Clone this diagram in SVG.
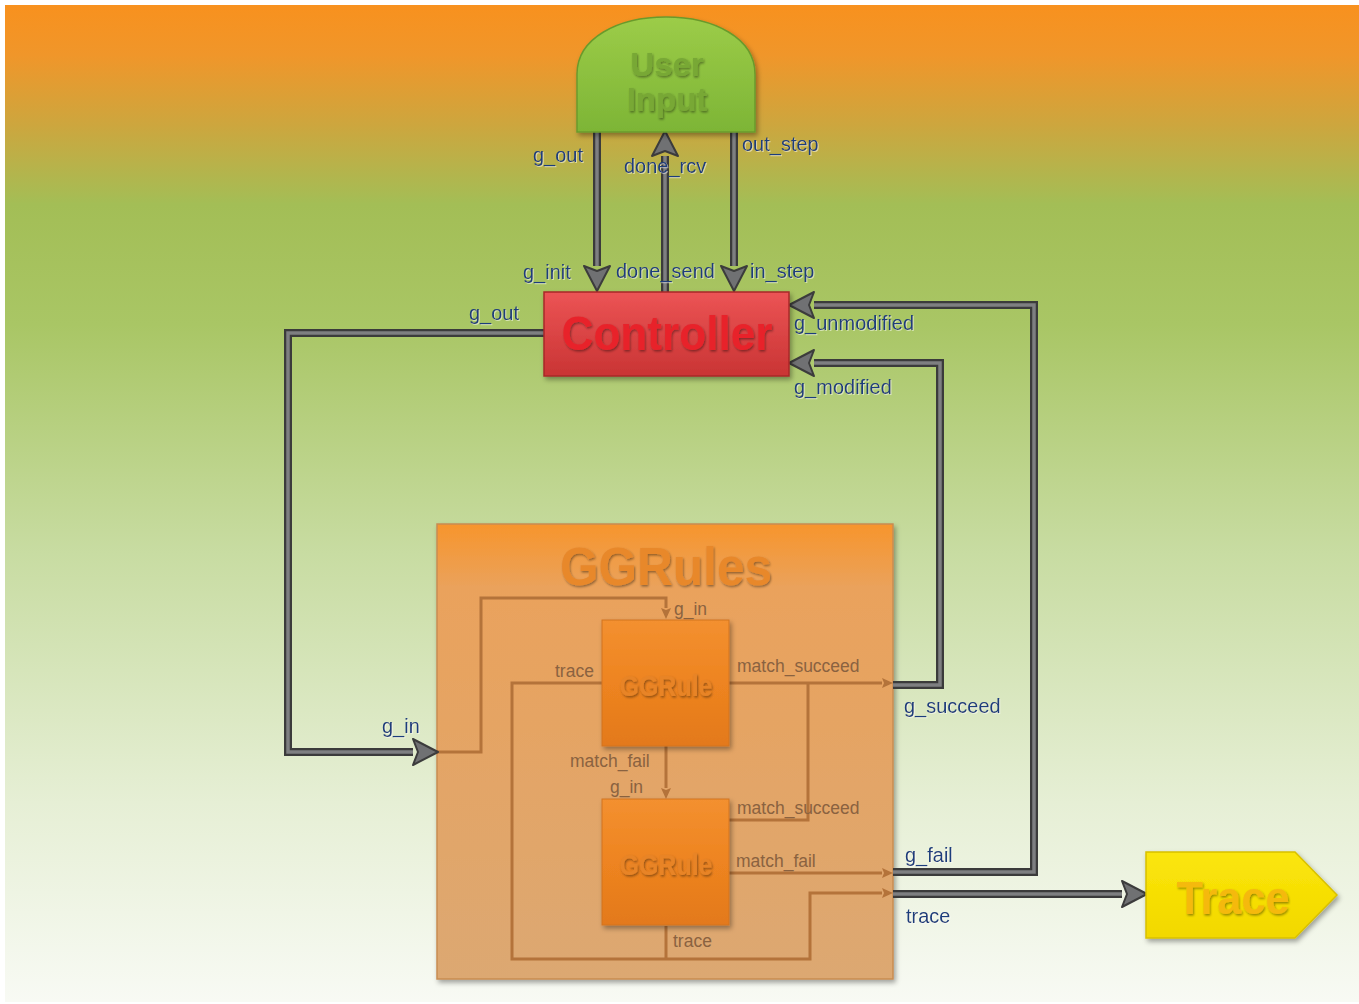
<svg xmlns="http://www.w3.org/2000/svg" width="1359" height="1004" viewBox="0 0 1359 1004">
<defs>
  <linearGradient id="bg" x1="0" y1="0" x2="0" y2="1">
    <stop offset="0" stop-color="#F8911E"/>
    <stop offset="0.05" stop-color="#F0962A"/>
    <stop offset="0.12" stop-color="#CDA63E"/>
    <stop offset="0.2" stop-color="#A3BE56"/>
    <stop offset="0.32" stop-color="#A9C665"/>
    <stop offset="0.55" stop-color="#C8DCA2"/>
    <stop offset="0.8" stop-color="#E6EFD5"/>
    <stop offset="1" stop-color="#F8FAF4"/>
  </linearGradient>
  <linearGradient id="gUser" x1="0" y1="0" x2="0" y2="1">
    <stop offset="0" stop-color="#9CCC48"/>
    <stop offset="1" stop-color="#7DB536"/>
  </linearGradient>
  <linearGradient id="gCtrl" x1="0" y1="0" x2="0" y2="1">
    <stop offset="0" stop-color="#EC5455"/>
    <stop offset="1" stop-color="#C93434"/>
  </linearGradient>
  <linearGradient id="gRules" x1="0" y1="0" x2="0" y2="1">
    <stop offset="0" stop-color="#F7952C"/>
    <stop offset="0.14" stop-color="#EAA25C"/>
    <stop offset="1" stop-color="#DCA872"/>
  </linearGradient>
  <linearGradient id="gRule" x1="0" y1="0" x2="0" y2="1">
    <stop offset="0" stop-color="#F39030"/>
    <stop offset="0.5" stop-color="#EE8420"/>
    <stop offset="1" stop-color="#E3791C"/>
  </linearGradient>
  <linearGradient id="gTrace" x1="0" y1="0" x2="0" y2="1">
    <stop offset="0" stop-color="#FBE60A"/>
    <stop offset="1" stop-color="#F2D800"/>
  </linearGradient>
  <filter id="shadow" x="-10%" y="-10%" width="125%" height="130%">
    <feDropShadow dx="2" dy="3" stdDeviation="2.5" flood-color="#000" flood-opacity="0.35"/>
  </filter>
  <filter id="tshadow" x="-10%" y="-20%" width="120%" height="150%">
    <feDropShadow dx="1" dy="1.5" stdDeviation="1" flood-color="#000" flood-opacity="0.4"/>
  </filter>
  <filter id="lshadow" x="-10%" y="-30%" width="120%" height="160%">
    <feDropShadow dx="1" dy="1" stdDeviation="0.6" flood-color="#fff" flood-opacity="0.5"/>
  </filter>
  <marker id="ah" markerUnits="userSpaceOnUse" markerWidth="28" markerHeight="30" refX="0" refY="15" orient="auto" overflow="visible">
    <path d="M0,2 L25,15 L0,28 L5,15 Z" fill="#707173" stroke="#3C3C3C" stroke-width="2" stroke-linejoin="round"/>
  </marker>
  <marker id="ahs" markerUnits="userSpaceOnUse" markerWidth="12" markerHeight="12" refX="0" refY="6" orient="auto" overflow="visible">
    <path d="M0,1 L11,6 L0,11 L2,6 Z" fill="#B4733A"/>
  </marker>
  <style>
    .outer { fill: none; stroke: #3B3B3B; stroke-width: 8; stroke-linejoin: miter; }
    .inner { fill: none; stroke: #7E7F81; stroke-width: 3.5; stroke-linejoin: miter; }
    .thin { fill: none; stroke: #B4733A; stroke-width: 3; stroke-linejoin: miter; }
    .lbl { font-family: "Liberation Sans", Arial, sans-serif; font-size: 20px; fill: #1F3E7C; }
    .ilbl { font-family: "Liberation Sans", Arial, sans-serif; font-size: 17.5px; fill: #8A6240; }
    .title { font-family: "Liberation Sans", Arial, sans-serif; font-weight: bold; text-anchor: middle; }
  </style>
</defs>

<rect x="0" y="0" width="1359" height="1004" fill="#FFFFFF"/>
<rect x="5" y="5" width="1354" height="997" fill="url(#bg)"/>

<g id="ggrules">
  <rect x="437" y="524" width="456" height="455" fill="url(#gRules)" stroke="#C88C52" stroke-width="1.5" filter="url(#shadow)"/>
  <text class="title" x="666" y="585" font-size="54" textLength="212" lengthAdjust="spacingAndGlyphs" fill="#E8882C" filter="url(#tshadow)">GGRules</text>
</g>

<g id="inner-connectors">
  <path class="thin" d="M437,752 L481,752 L481,598 L666,598 L666,608" marker-end="url(#ahs)"/>
  <path class="thin" d="M602,683 L512,683 L512,959 L810,959 L810,893 L882,893" marker-end="url(#ahs)"/>
  <path class="thin" d="M729,683 L882,683" marker-end="url(#ahs)"/>
  <path class="thin" d="M729,820 L808,820 L808,683"/>
  <path class="thin" d="M666,746 L666,788" marker-end="url(#ahs)"/>
  <path class="thin" d="M729,873 L882,873" marker-end="url(#ahs)"/>
  <path class="thin" d="M666,926 L666,959"/>
  <text class="ilbl" x="674" y="615">g_in</text>
  <text class="ilbl" x="555" y="677">trace</text>
  <text class="ilbl" x="737" y="672">match_succeed</text>
  <text class="ilbl" x="570" y="767">match_fail</text>
  <text class="ilbl" x="610" y="793">g_in</text>
  <text class="ilbl" x="737" y="814">match_succeed</text>
  <text class="ilbl" x="736" y="867">match_fail</text>
  <text class="ilbl" x="673" y="947">trace</text>
</g>

<g id="ggrule1">
  <rect x="602" y="620" width="127" height="126" fill="url(#gRule)" stroke="#D27420" stroke-width="1" filter="url(#shadow)"/>
  <text class="title" x="666" y="696" font-size="29" textLength="93" lengthAdjust="spacingAndGlyphs" fill="#E88426" filter="url(#tshadow)">GGRule</text>
</g>
<g id="ggrule2">
  <rect x="602" y="799" width="127" height="126" fill="url(#gRule)" stroke="#D27420" stroke-width="1" filter="url(#shadow)"/>
  <text class="title" x="666" y="875" font-size="29" textLength="93" lengthAdjust="spacingAndGlyphs" fill="#E88426" filter="url(#tshadow)">GGRule</text>
</g>

<g id="connectors">
  <path class="outer" d="M597,132 L597,266"/>
  <path class="inner" d="M597,132 L597,266" marker-end="url(#ah)"/>
  <path class="outer" d="M665,292 L665,156"/>
  <path class="inner" d="M665,292 L665,156" marker-end="url(#ah)"/>
  <path class="outer" d="M734,132 L734,266"/>
  <path class="inner" d="M734,132 L734,266" marker-end="url(#ah)"/>
  <path class="outer" d="M544,333 L288,333 L288,752 L413,752"/>
  <path class="inner" d="M544,333 L288,333 L288,752 L413,752" marker-end="url(#ah)"/>
  <path class="outer" d="M893,872 L1034,872 L1034,305 L814,305"/>
  <path class="inner" d="M893,872 L1034,872 L1034,305 L814,305" marker-end="url(#ah)"/>
  <path class="outer" d="M893,685 L940,685 L940,363 L814,363"/>
  <path class="inner" d="M893,685 L940,685 L940,363 L814,363" marker-end="url(#ah)"/>
  <path class="outer" d="M893,894 L1122,894"/>
  <path class="inner" d="M893,894 L1122,894" marker-end="url(#ah)"/>
  <g filter="url(#lshadow)">
    <text class="lbl" x="533" y="162">g_out</text>
    <text class="lbl" x="624" y="173">done_rcv</text>
    <text class="lbl" x="742" y="151">out_step</text>
    <text class="lbl" x="523" y="279">g_init</text>
    <text class="lbl" x="616" y="278">done_send</text>
    <text class="lbl" x="750" y="278">in_step</text>
    <text class="lbl" x="469" y="320">g_out</text>
    <text class="lbl" x="794" y="330">g_unmodified</text>
    <text class="lbl" x="794" y="394">g_modified</text>
    <text class="lbl" x="382" y="733">g_in</text>
    <text class="lbl" x="904" y="713">g_succeed</text>
    <text class="lbl" x="905" y="862">g_fail</text>
    <text class="lbl" x="906" y="923">trace</text>
  </g>
</g>

<g id="user-input">
  <path d="M577,132 L577,74 C577,38 618,17 666,17 C714,17 755,38 755,74 L755,132 Z" fill="url(#gUser)" stroke="#6A9A2C" stroke-width="1.5" filter="url(#shadow)"/>
  <text class="title" x="667" y="76" font-size="33" fill="#78A836" filter="url(#tshadow)">User</text>
  <text class="title" x="667" y="111" font-size="33" fill="#78A836" filter="url(#tshadow)">Input</text>
</g>

<g id="controller">
  <rect x="544" y="292" width="245" height="84" fill="url(#gCtrl)" stroke="#A82828" stroke-width="1.5" filter="url(#shadow)"/>
  <text class="title" x="667" y="350" font-size="48" textLength="211" lengthAdjust="spacingAndGlyphs" fill="#E8232A" filter="url(#tshadow)">Controller</text>
</g>

<g id="trace">
  <polygon points="1146,852 1295,852 1337,895 1295,938 1146,938" fill="url(#gTrace)" stroke="#D8C000" stroke-width="1.5" filter="url(#shadow)"/>
  <text class="title" x="1233" y="914" font-size="46" textLength="113" lengthAdjust="spacingAndGlyphs" fill="#F5B90C" filter="url(#tshadow)">Trace</text>
</g>
</svg>
